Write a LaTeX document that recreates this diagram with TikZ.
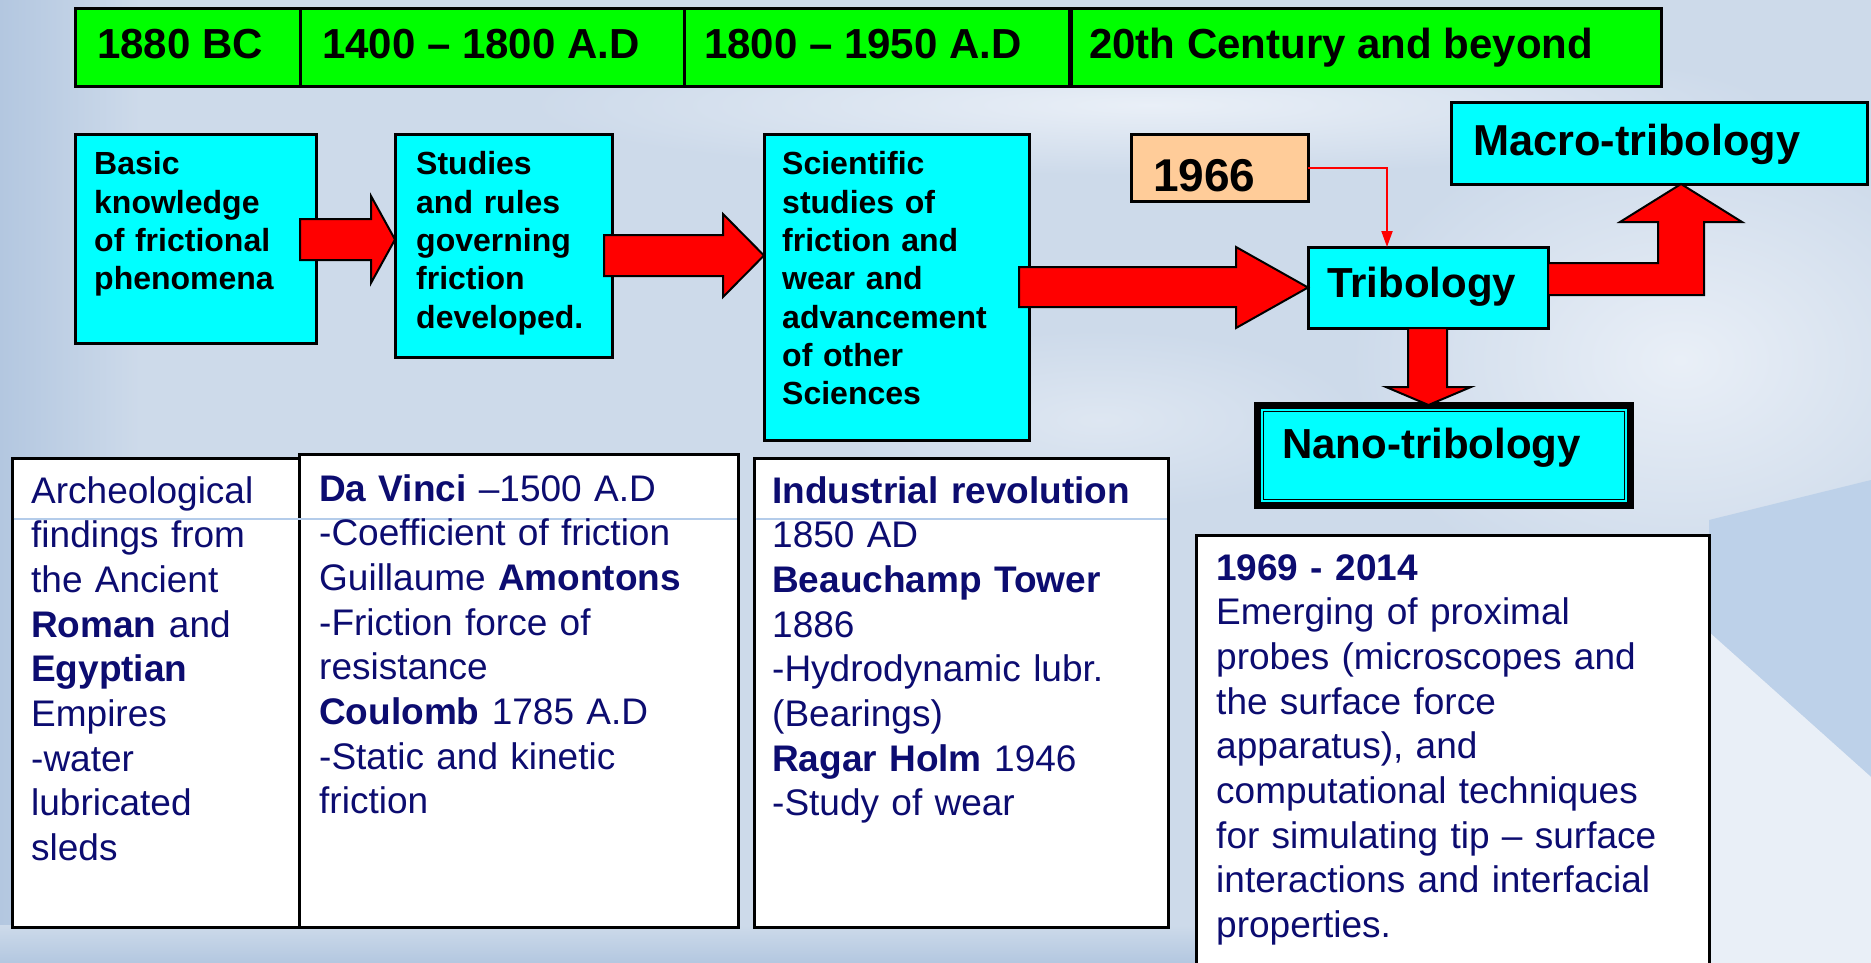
\documentclass[tikz,border=0pt]{standalone}
\usepackage{fontspec}
\setmainfont{Liberation Sans}
\usetikzlibrary{arrows.meta,calc}
\definecolor{bgbase}{HTML}{CDDAEA}
\definecolor{bgleft}{HTML}{B3C7E0}
\definecolor{bgblue}{HTML}{BDD1E9}
\definecolor{bgwhite}{HTML}{E9EFF7}
\definecolor{navy}{RGB}{12,12,112}
\definecolor{grn}{HTML}{00FF00}
\definecolor{cyn}{HTML}{00FFFF}
\definecolor{peach}{HTML}{FFCC99}
\definecolor{arrred}{HTML}{FF0000}
\definecolor{gridblue}{HTML}{B4CCEA}
\begin{document}
\begin{tikzpicture}[x=1pt,y=-1pt,
  box/.style={draw=black, line width=3pt, inner sep=0pt, outer sep=0pt, anchor=north west},
  greenbox/.style={box, fill=grn},
  cyanbox/.style={box, fill=cyn},
  whitebox/.style={box, fill=white},
  hdr/.style={anchor=base west, inner sep=0pt, font=\bfseries\fontsize{42}{50}\selectfont},
  toptxt/.style={anchor=base west, inner sep=0pt, align=left, text width=260pt,
    font=\bfseries\fontsize{32}{38.3}\selectfont},
  bigtxt/.style={anchor=base west, inner sep=0pt},
  lowtxt/.style={anchor=base west, inner sep=0pt, align=left, text width=500pt, text=navy,
    font=\fontsize{37}{44.7}\selectfont},
  blockarrow/.style={fill=arrred, draw=black, line width=2pt, line join=miter},
  conn/.style={draw=arrred, line width=2pt, -{Triangle[length=16pt,width=11pt]}}
]
\useasboundingbox (0,0) rectangle (1871,963);
% ---------- background ----------
\fill[bgbase] (0,0) rectangle (1871,963);
\shade[left color=bgleft, right color=bgbase] (0,0) rectangle (140,963);
\shade[inner color=bgwhite, outer color=bgbase] (1150,105) ellipse (620 and 70);
\shade[inner color=bgwhite, outer color=bgbase] (1680,360) ellipse (330 and 240);
\shade[inner color=bgwhite!60!bgbase, outer color=bgbase] (1100,420) ellipse (260 and 90);
\fill[bgblue] (1709,520) -- (1871,480) -- (1871,777) -- (1709,632) -- cycle;
\fill[bgwhite] (1709,632) -- (1871,777) -- (1871,963) -- (1709,963) -- cycle;
\shade[top color=bgbase, bottom color=bgleft] (0,925) rectangle (1196,963);

% ---------- timeline bar ----------
\node[greenbox, minimum width=225pt, minimum height=78pt] (g1) at (75,9) {};
\node[greenbox, minimum width=384pt, minimum height=78pt] (g2) at (300,9) {};
\node[greenbox, minimum width=385pt, minimum height=78pt] (g3) at (684,9) {};
\node[greenbox, minimum width=590pt, minimum height=78pt] (g4) at (1071,9) {};
\node[hdr] (g1t) at (97,59) {1880 BC};
\node[hdr] (g2t) at (322,59) {1400 – 1800 A.D};
\node[hdr] (g3t) at (704,59) {1800 – 1950 A.D};
\node[hdr] (g4t) at (1089,59) {20th Century and beyond};

% ---------- upper boxes ----------
\node[cyanbox, minimum width=241pt, minimum height=208pt] (b1) at (75,135) {};
\node[cyanbox, minimum width=217pt, minimum height=222pt] (b2) at (395,135) {};
\node[cyanbox, minimum width=265pt, minimum height=305pt] (b3) at (764,135) {};
\node[box, fill=peach, minimum width=177pt, minimum height=66pt] (y1966) at (1131,135) {};
\node[cyanbox, minimum width=240pt, minimum height=81pt] (trib) at (1308,247) {};
\node[cyanbox, minimum width=416pt, minimum height=81pt] (macro) at (1451,103) {};
\node[anchor=north west, inner sep=0pt, outer sep=0pt, draw=black, line width=7pt, fill=cyn,
      minimum width=373pt, minimum height=100pt] (nano) at (1257.5,405.5) {};
\node[anchor=north west, inner sep=0pt, outer sep=0pt, draw=black, line width=1.5pt,
      minimum width=361pt, minimum height=88pt] (nanoin) at (1263.5,411.5) {};

\node[toptxt] (b1t) at (94,175) {Basic\\knowledge\\of frictional\\phenomena};
\node[toptxt] (b2t) at (416,175) {Studies\\and rules\\governing\\friction\\developed.};
\node[toptxt] (b3t) at (782,175) {Scientific\\studies of\\friction and\\wear and\\advancement\\of other\\Sciences};
\node[bigtxt, font=\bfseries\fontsize{46}{50}\selectfont] (y1966t) at (1153,191) {1966};
\node[bigtxt, font=\bfseries\fontsize{42}{50}\selectfont] (tribt) at (1327,297) {Tribology};
\node[bigtxt, font=\bfseries\fontsize{43.3}{50}\selectfont] (macrot) at (1473,155) {Macro-tribology};
\node[bigtxt, font=\bfseries\fontsize{42}{50}\selectfont] (nanot) at (1282,458) {Nano-tribology};

% ---------- block arrows ----------
\filldraw[blockarrow] (300,219) -- (371,219) -- (371,196) -- (395,239.5) -- (371,283) -- (371,260) -- (300,260) -- cycle;
\filldraw[blockarrow] (604,235) -- (723,235) -- (723,214) -- (764,255.5) -- (723,297) -- (723,276) -- (604,276) -- cycle;
\filldraw[blockarrow] (1019,267) -- (1236,267) -- (1236,247) -- (1308,287.5) -- (1236,328) -- (1236,307) -- (1019,307) -- cycle;
\filldraw[blockarrow] (1548,263) -- (1658,263) -- (1658,222) -- (1620,222) -- (1681,184) -- (1742,222) -- (1704,222) -- (1704,295) -- (1548,295) -- cycle;
\filldraw[blockarrow] (1408,328) -- (1447,328) -- (1447,387) -- (1471,387) -- (1428.5,405) -- (1386,387) -- (1408,387) -- cycle;

% ---------- 1966 connector ----------
\coordinate (tribin) at ($(trib.north west)+(79,0)$);
\draw[conn] (y1966.east) -| (tribin);

% ---------- lower boxes ----------
\node[whitebox, minimum width=288pt, minimum height=469pt] (la) at (12,458) {};
\node[whitebox, minimum width=439pt, minimum height=473pt] (lb) at (299,454) {};
\node[whitebox, minimum width=414pt, minimum height=469pt] (lc) at (754,458) {};
\node[whitebox, minimum width=513pt, minimum height=440pt] (ld) at (1196,535) {};
\draw[gridblue, line width=1.5pt] (13.5,519) -- (736.5,519);
\draw[gridblue, line width=1.5pt] (755.5,519) -- (1166.5,519);

\node[lowtxt] (lat) at (31,503) {Archeological\\findings from\\the Ancient\\\textbf{Roman} and\\\textbf{Egyptian}\\Empires\\-water\\lubricated\\sleds};
\node[lowtxt] (lbt) at (319,501) {\textbf{Da Vinci} –1500 A.D\\-Coefficient of friction\\Guillaume \textbf{Amontons}\\-Friction force of\\resistance\\\textbf{Coulomb} 1785 A.D\\-Static and kinetic\\friction};
\node[lowtxt] (lct) at (772,503) {\textbf{Industrial revolution}\\1850 AD\\\textbf{Beauchamp Tower}\\1886\\-Hydrodynamic lubr.\\(Bearings)\\\textbf{Ragar Holm} 1946\\-Study of wear};
\node[lowtxt] (ldt) at (1216,580) {\textbf{1969 - 2014}\\Emerging of proximal\\probes (microscopes and\\the surface force\\apparatus), and\\computational techniques\\for simulating tip – surface\\interactions and interfacial\\properties.};
\end{tikzpicture}
\end{document}
